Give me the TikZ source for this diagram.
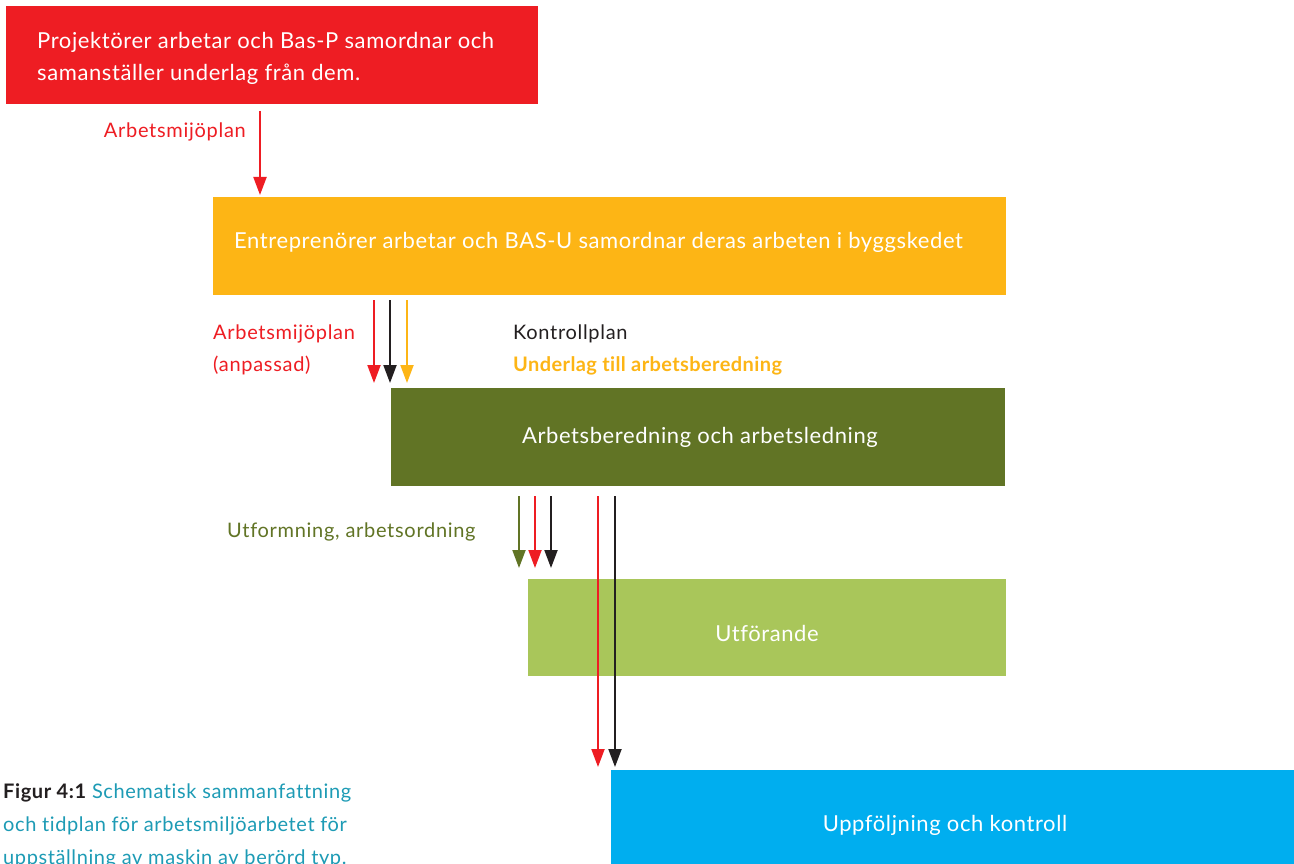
\documentclass[tikz,border=0pt]{standalone}
\usepackage{fontspec}
\setmainfont{Lato}[Ligatures=NoCommon]
\usetikzlibrary{arrows.meta}
\definecolor{cred}{HTML}{EE1D23}
\definecolor{corange}{HTML}{FDB515}
\definecolor{colive}{HTML}{617425}
\definecolor{clight}{HTML}{A9C65A}
\definecolor{cblue}{HTML}{00AEEF}
\definecolor{cteal}{HTML}{1D9BB5}
\definecolor{cdark}{HTML}{231F20}
\begin{document}
\begin{tikzpicture}[x=1pt,y=-1pt,
  box/.style={anchor=north west, inner sep=0pt, outer sep=0pt, draw=none},
  boxtxt/.style={inner sep=0pt, text=white, font=\fontsize{22}{32}\selectfont\addfontfeatures{LetterSpace=2.7}},
  lab/.style={inner sep=0pt, font=\fontsize{20}{30}\selectfont\addfontfeatures{LetterSpace=3.5}},
  captxt/.style={inner sep=0pt, text=cteal, anchor=base west, font=\fontsize{20}{30}\selectfont\addfontfeatures{LetterSpace=3}},
  arr/.style={line width=2pt, -{Triangle[width=13pt,length=18pt]}},
]
\useasboundingbox (0,0) rectangle (1294,864);
\fill[white] (0,0) rectangle (1294,864);

% boxes
\node[box, fill=cred, minimum width=532pt, minimum height=98pt] (red) at (6,6) {};
\node[box, fill=corange, minimum width=793pt, minimum height=98pt] (orange) at (213,197) {};
\node[box, fill=colive, minimum width=614pt, minimum height=98pt] (green) at (391,388) {};
\node[box, fill=clight, minimum width=478pt, minimum height=97pt] (light) at (528,579) {};
\node[box, fill=cblue, minimum width=683pt, minimum height=110pt] (blue) at (611,770) {};

% box texts
\node[boxtxt, anchor=base west] (redtxta) at (37,48.5) {Projektörer arbetar och Bas-P samordnar och};
\node[boxtxt, anchor=base west] (redtxtb) at (37,80.5) {samanställer underlag från dem.};
\node[boxtxt, anchor=base west] (orangetxt) at (234,248) {Entreprenörer arbetar och BAS-U samordnar deras arbeten i byggskedet};
\node[boxtxt, anchor=base] (greentxt) at (700,443) {Arbetsberedning och arbetsledning};
\node[boxtxt, anchor=base] (lighttxt) at (767,641) {Utförande};
\node[boxtxt, anchor=base] (bluetxt) at (945,831) {Uppföljning och kontroll};

% labels
\node[lab, text=cred, anchor=base east] (l1) at (246,138) {Arbetsmijöplan};
\node[lab, text=cred, anchor=base west] (l2a) at (213,339) {Arbetsmijöplan};
\node[lab, text=cred, anchor=base west] (l2b) at (213,371) {(anpassad)};
\node[lab, text=cdark, anchor=base west] (l3a) at (513,339) {Kontrollplan};
\node[lab, text=corange, anchor=base west, font=\fontsize{20}{30}\selectfont\bfseries\addfontfeatures{LetterSpace=2}] (l3b) at (513,371) {Underlag till arbetsberedning};
\node[lab, text=colive, anchor=base west] (l4) at (227,537) {Utformning, arbetsordning};

% caption
\node[captxt] (capa) at (3,798) {\textcolor{cdark}{\bfseries Figur 4:1} Schematisk sammanfattning};
\node[captxt] (capb) at (3,831) {och tidplan för arbetsmiljöarbetet för};
\node[captxt] (capc) at (3,864) {uppställning av maskin av berörd typ.};

% arrows
\draw[arr, cred] ([xshift=254pt,yshift=-7pt]red.south west) -- ([xshift=47pt,yshift=2pt]orange.north west);

\draw[arr, cred] ([xshift=161pt,yshift=-5pt]orange.south west) -- ([xshift=-17pt,yshift=5pt]green.north west);
\draw[arr, cdark] ([xshift=177pt,yshift=-5pt]orange.south west) -- ([xshift=-1pt,yshift=5pt]green.north west);
\draw[arr, corange] ([xshift=194pt,yshift=-5pt]orange.south west) -- ([xshift=16pt,yshift=5pt]green.north west);

\draw[arr, colive] ([xshift=128pt,yshift=-10pt]green.south west) -- ([xshift=-9pt,yshift=11pt]light.north west);
\draw[arr, cred] ([xshift=144pt,yshift=-10pt]green.south west) -- ([xshift=7pt,yshift=11pt]light.north west);
\draw[arr, cdark] ([xshift=160pt,yshift=-10pt]green.south west) -- ([xshift=23pt,yshift=11pt]light.north west);

\draw[arr, cred] ([xshift=207pt,yshift=-10pt]green.south west) -- ([xshift=-13pt,yshift=3pt]blue.north west);
\draw[arr, cdark] ([xshift=224pt,yshift=-10pt]green.south west) -- ([xshift=4pt,yshift=3pt]blue.north west);
\end{tikzpicture}
\end{document}
